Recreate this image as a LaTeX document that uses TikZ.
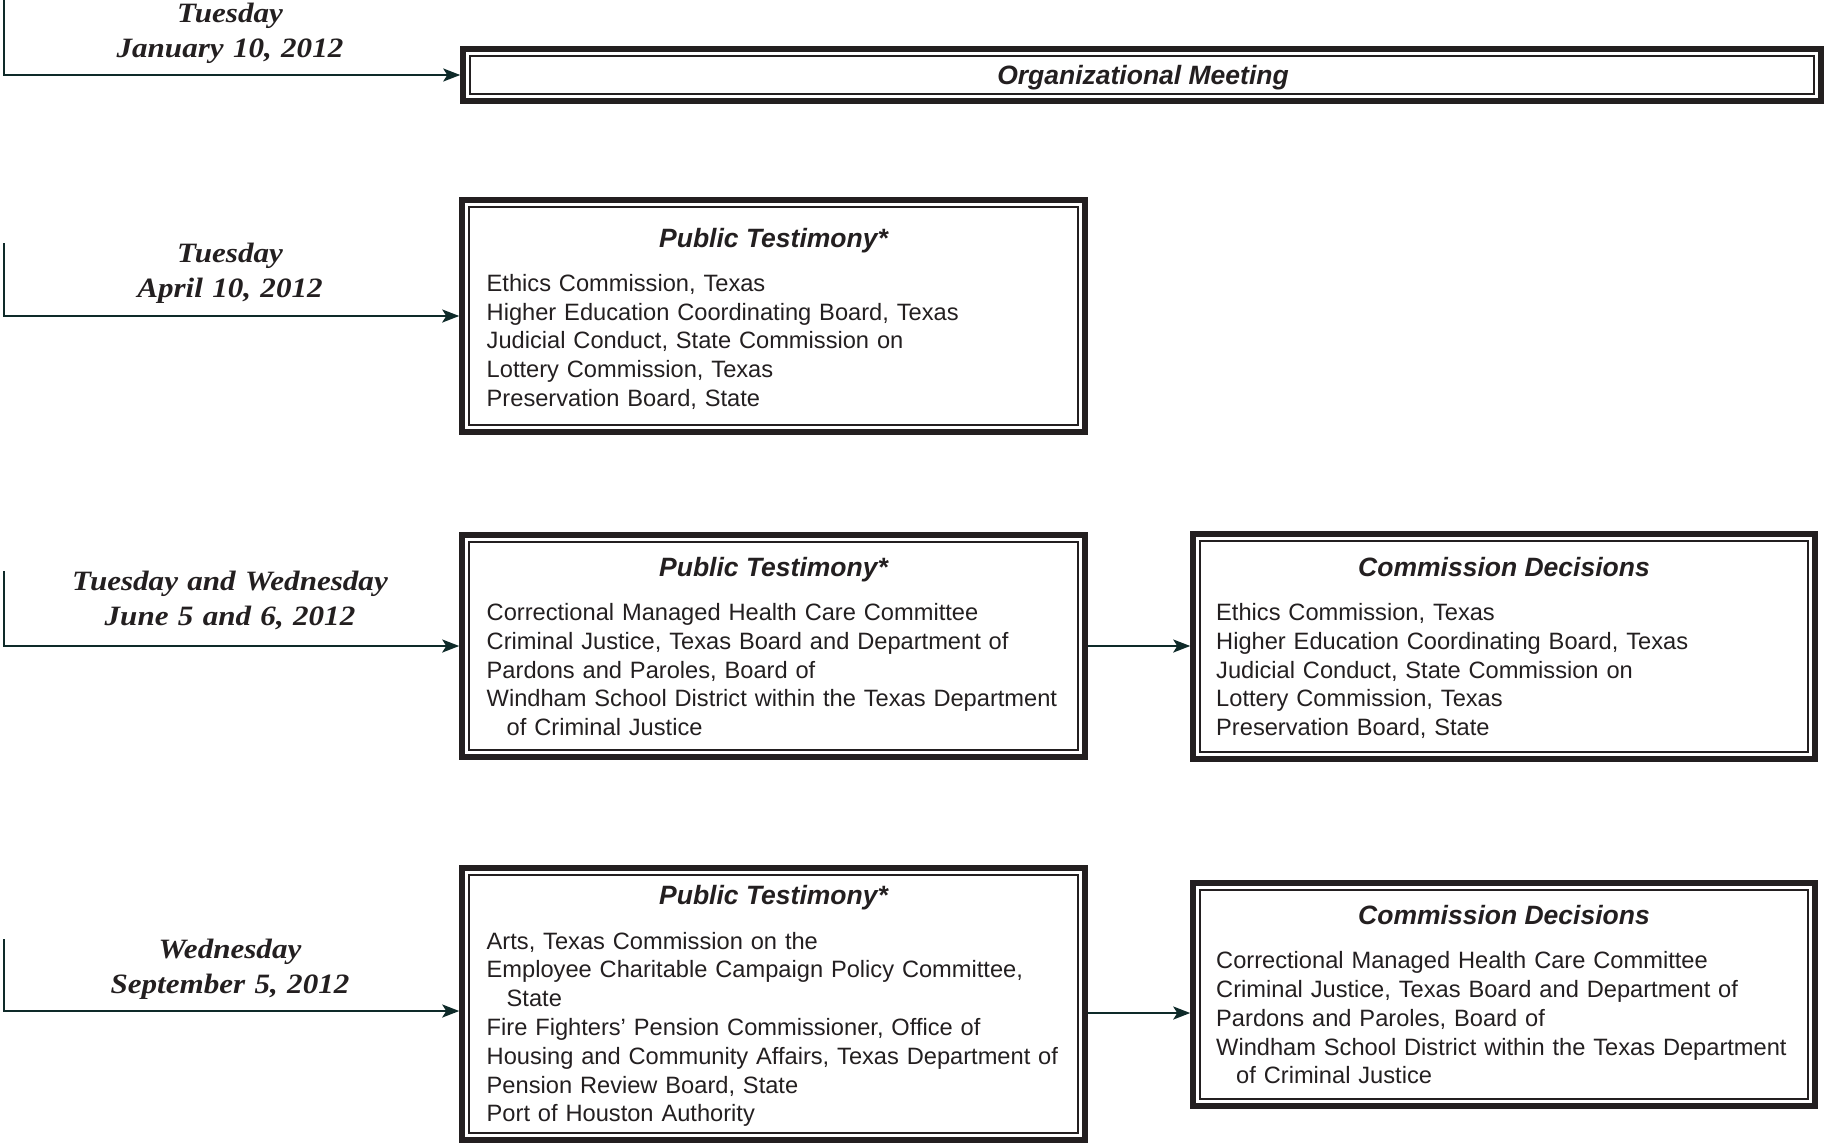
\documentclass[tikz,border=0pt]{standalone}
\usepackage{fontspec}
\setmainfont{Liberation Sans}
\newfontfamily\datefont[FakeStretch=1.11]{Liberation Serif}
\usetikzlibrary{arrows.meta}
\definecolor{ink}{HTML}{231F20}
\definecolor{arrowcol}{HTML}{0E2A29}
\newcommand\innerframe[1]{\draw[innerline] ([shift={(10pt,-10pt)}]#1.north west) rectangle ([shift={(-10pt,10pt)}]#1.south east);}
\tikzset{
  box/.style={draw=ink, line width=5.5pt, inner sep=0pt},
  innerline/.style={draw=ink, line width=1.8pt},
  title/.style={font=\fontsize{26.5}{30}\selectfont\bfseries\itshape, text=ink, inner sep=0pt, anchor=base},
  items/.style={font=\fontsize{23.65}{28.8}\selectfont, text=ink, inner sep=0pt, anchor=base west, text width=590pt, align=left},
  datetxt/.style={font=\datefont\fontsize{28}{35}\selectfont\bfseries\itshape, text=ink, inner sep=0pt, anchor=base, text width=440pt, align=center},
  arr/.style={draw=arrowcol, line width=2.4pt, -{Stealth[length=17pt,width=13pt,inset=4pt]}},
}
\begin{document}
\begin{tikzpicture}[x=1pt,y=-1pt]
\useasboundingbox (0,0) rectangle (1825,1144);

% ---------- Row 1
\node[box, minimum width=1358pt, minimum height=52pt] (b1) at (1142,75) {};
\innerframe{b1}
\node[title] (t1) at (1143,84) {Organizational Meeting};
\node[datetxt] (d1) at (230,22.8) {Tuesday\\January 10, 2012};
\coordinate (s1) at (4,0);
\draw[arr] (s1) |- (b1.west);

% ---------- Row 2
\node[box, minimum width=623pt, minimum height=232pt] (pt2) at (773.5,316) {};
\innerframe{pt2}
\node[title] (pt2t) at (773.5,247) {Public Testimony*};
\node[items] (pt2l) at (486.5,291.3) {Ethics Commission, Texas\\
Higher Education Coordinating Board, Texas\\
Judicial Conduct, State Commission on\\
Lottery Commission, Texas\\
Preservation Board, State};
\node[datetxt] (d2) at (230,262.6) {Tuesday\\April 10, 2012};
\coordinate (s2) at (4,243);
\draw[arr] (s2) |- (pt2.west);

% ---------- Row 3
\node[box, minimum width=623pt, minimum height=222pt] (pt3) at (773.5,646) {};
\innerframe{pt3}
\node[title] (pt3t) at (773.5,576) {Public Testimony*};
\node[items] (pt3l) at (486.5,620.5) {Correctional Managed Health Care Committee\\
Criminal Justice, Texas Board and Department of\\
Pardons and Paroles, Board of\\
Windham School District within the Texas Department\\
\hspace*{20pt}of Criminal Justice};
\node[box, minimum width=622pt, minimum height=225pt] (cd3) at (1504,646.5) {};
\innerframe{cd3}
\node[title] (cd3t) at (1504,576) {Commission Decisions};
\node[items] (cd3l) at (1216,620.5) {Ethics Commission, Texas\\
Higher Education Coordinating Board, Texas\\
Judicial Conduct, State Commission on\\
Lottery Commission, Texas\\
Preservation Board, State};
\node[datetxt] (d3) at (230,590.8) {Tuesday and Wednesday\\June 5 and 6, 2012};
\coordinate (s3) at (4,571);
\draw[arr] (s3) |- (pt3.west);
\draw[arr] (pt3.east) -- (pt3.east -| cd3.west);

% ---------- Row 4
\node[box, minimum width=623pt, minimum height=272pt] (pt4) at (773.5,1004) {};
\innerframe{pt4}
\node[title] (pt4t) at (773.5,904.5) {Public Testimony*};
\node[items] (pt4l) at (486.5,949) {Arts, Texas Commission on the\\
Employee Charitable Campaign Policy Committee,\\
\hspace*{20pt}State\\
Fire Fighters’ Pension Commissioner, Office of\\
Housing and Community Affairs, Texas Department of\\
Pension Review Board, State\\
Port of Houston Authority};
\node[box, minimum width=622pt, minimum height=223pt] (cd4) at (1504,994.5) {};
\innerframe{cd4}
\node[title] (cd4t) at (1504,924.5) {Commission Decisions};
\node[items] (cd4l) at (1216,968.7) {Correctional Managed Health Care Committee\\
Criminal Justice, Texas Board and Department of\\
Pardons and Paroles, Board of\\
Windham School District within the Texas Department\\
\hspace*{20pt}of Criminal Justice};
\node[datetxt] (d4) at (230,958.6) {Wednesday\\September 5, 2012};
\coordinate (s4) at (4,939);
\coordinate (e4) at (0,1011);
\coordinate (f4) at (0,1013);
\draw[arr] (s4) |- (pt4.west |- e4);
\draw[arr] (pt4.east |- f4) -- (cd4.west |- f4);
\end{tikzpicture}
\end{document}
